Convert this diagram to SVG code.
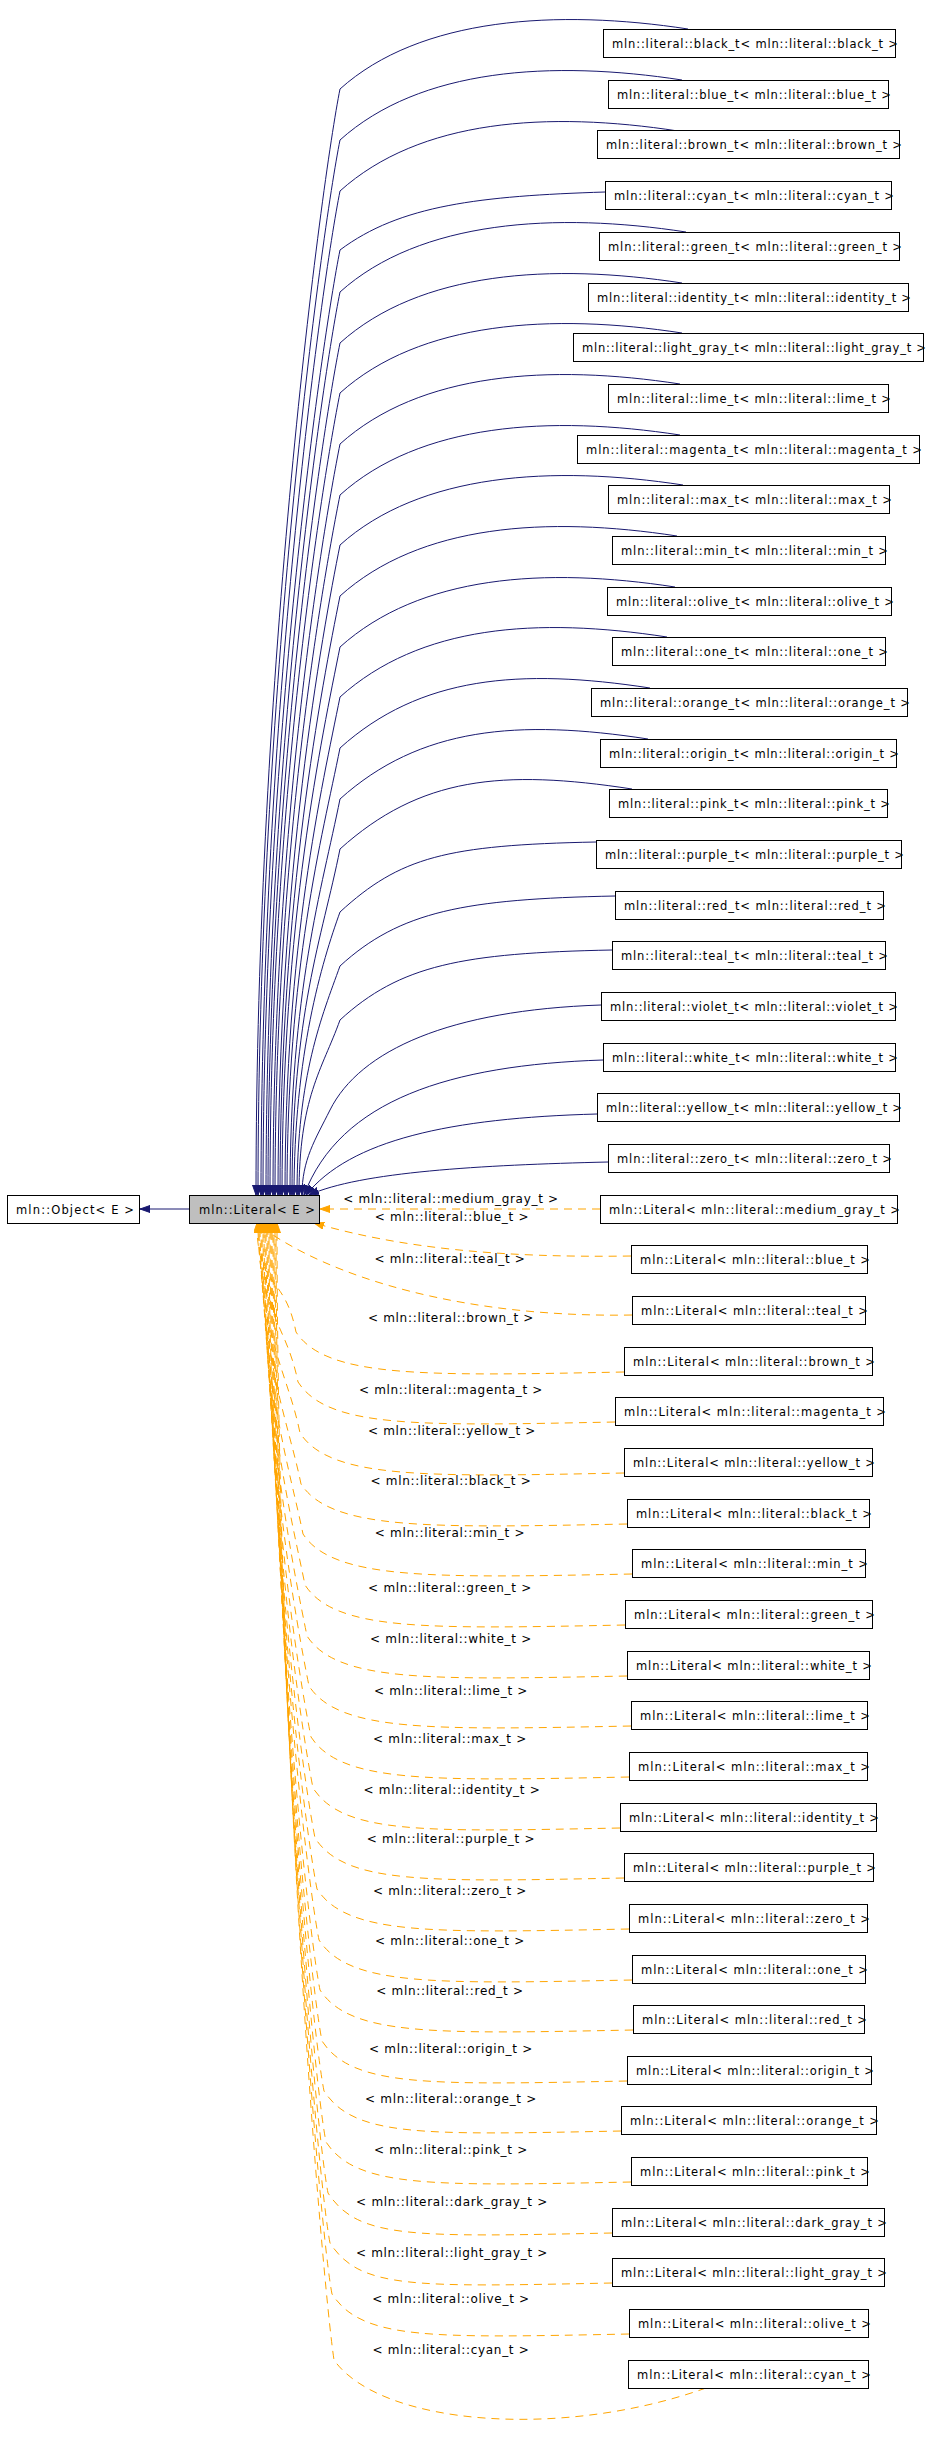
<svg xmlns="http://www.w3.org/2000/svg" width="928" height="2441" viewBox="0 0 928 2441">
<style>
rect{fill:#fff;stroke:#000;stroke-width:1}
text{font-family:"DejaVu Sans","Liberation Sans",sans-serif;font-size:10px;fill:#000}
.n text{font-size:11.5px}
.lbl{text-anchor:middle;font-size:12px;letter-spacing:0.7px}
.s{fill:none;stroke:#191970;stroke-width:1}
.d{fill:none;stroke:#ffa500;stroke-width:1;stroke-dasharray:8,6}
</style>
<defs>
<marker id="an" markerUnits="userSpaceOnUse" markerWidth="11" markerHeight="8" refX="10" refY="3.5" orient="auto"><path d="M0,0 L10,3.5 L0,7 z" fill="#191970" stroke="#191970"/></marker>
<marker id="ao" markerUnits="userSpaceOnUse" markerWidth="11" markerHeight="8" refX="10" refY="3.5" orient="auto"><path d="M0,0 L10,3.5 L0,7 z" fill="#ffa500" stroke="#ffa500"/></marker>
</defs>
<g id="edges">
<path class="s" marker-end="url(#an)" d="M189,1209 L140,1209"/>
<path class="s" marker-end="url(#an)" d="M688,29 C558,9 420,17 340,89 C322,179 256,670 256,1195"/>
<path class="s" marker-end="url(#an)" d="M682,80 C552,60 420,68 340,140 C322,230 258,693 258,1195"/>
<path class="s" marker-end="url(#an)" d="M678,131 C548,111 420,119 340,191 C322,281 261,716 261,1195"/>
<path class="s" marker-end="url(#an)" d="M605,192 C480,196 400,205 340,250 C322,340 263,746 263,1195"/>
<path class="s" marker-end="url(#an)" d="M686,232 C556,212 420,220 340,292 C322,382 266,762 266,1195"/>
<path class="s" marker-end="url(#an)" d="M682,283 C552,263 420,271 340,343 C322,433 268,785 268,1195"/>
<path class="s" marker-end="url(#an)" d="M682,333 C552,313 420,321 340,393 C322,483 270,807 270,1195"/>
<path class="s" marker-end="url(#an)" d="M680,384 C550,364 420,372 340,444 C322,534 273,830 273,1195"/>
<path class="s" marker-end="url(#an)" d="M680,435 C550,415 420,423 340,495 C322,585 275,853 275,1195"/>
<path class="s" marker-end="url(#an)" d="M683,485 C553,465 420,473 340,545 C322,635 278,875 278,1195"/>
<path class="s" marker-end="url(#an)" d="M677,536 C547,516 420,524 340,596 C322,686 280,898 280,1195"/>
<path class="s" marker-end="url(#an)" d="M675,587 C545,567 420,575 340,647 C322,737 282,921 282,1195"/>
<path class="s" marker-end="url(#an)" d="M667,637 C537,617 420,625 340,697 C322,787 285,944 285,1195"/>
<path class="s" marker-end="url(#an)" d="M650,688 C520,668 420,676 340,748 C322,838 287,967 287,1195"/>
<path class="s" marker-end="url(#an)" d="M648,739 C518,719 420,727 340,799 C322,889 290,990 290,1195"/>
<path class="s" marker-end="url(#an)" d="M632,789 C502,769 420,777 340,849 C322,939 292,1012 292,1195"/>
<path class="s" marker-end="url(#an)" d="M596,842 C446,845 400,857 340,912 C322,962 294,1054 294,1195"/>
<path class="s" marker-end="url(#an)" d="M615,896 C465,899 400,911 340,966 C322,1016 297,1075 297,1195"/>
<path class="s" marker-end="url(#an)" d="M612,950 C462,953 400,965 340,1020 C322,1070 299,1097 299,1195"/>
<path class="s" marker-end="url(#an)" d="M601,1005 C450,1010 360,1050 330,1110 C315,1140 302,1160 302,1195"/>
<path class="s" marker-end="url(#an)" d="M603,1060 C450,1065 340,1100 304,1195"/>
<path class="s" marker-end="url(#an)" d="M597,1114 C450,1118 350,1140 306,1195"/>
<path class="s" marker-end="url(#an)" d="M608,1162 C480,1165 360,1172 309,1195"/>
<path class="d" marker-end="url(#ao)" d="M600,1209 L320,1209"/>
<path class="d" marker-end="url(#ao)" d="M631,1256 C500,1258 400,1248 314,1223"/>
<path class="d" marker-end="url(#ao)" d="M632,1315 C470,1318 330,1280 256,1223"/>
<path class="d" marker-end="url(#ao)" d="M624,1372 C424,1376 326,1378 296,1332 C284,1272 257,1290 257,1223"/>
<path class="d" marker-end="url(#ao)" d="M615,1422 C415,1426 328,1428 298,1382 C286,1322 258,1313 258,1223"/>
<path class="d" marker-end="url(#ao)" d="M624,1473 C424,1477 330,1479 300,1433 C288,1373 259,1336 259,1223"/>
<path class="d" marker-end="url(#ao)" d="M627,1524 C427,1528 331,1530 301,1484 C289,1424 260,1358 260,1223"/>
<path class="d" marker-end="url(#ao)" d="M632,1574 C432,1578 333,1580 303,1534 C291,1474 261,1381 261,1223"/>
<path class="d" marker-end="url(#ao)" d="M625,1625 C425,1629 335,1631 305,1585 C293,1525 262,1404 262,1223"/>
<path class="d" marker-end="url(#ao)" d="M627,1676 C427,1680 337,1682 307,1636 C295,1576 263,1427 263,1223"/>
<path class="d" marker-end="url(#ao)" d="M631,1726 C431,1730 339,1732 309,1686 C297,1626 264,1450 264,1223"/>
<path class="d" marker-end="url(#ao)" d="M629,1777 C429,1781 341,1783 311,1737 C299,1677 265,1472 265,1223"/>
<path class="d" marker-end="url(#ao)" d="M620,1828 C420,1832 343,1834 313,1788 C301,1728 266,1495 266,1223"/>
<path class="d" marker-end="url(#ao)" d="M624,1878 C424,1882 345,1884 315,1838 C303,1778 267,1518 267,1223"/>
<path class="d" marker-end="url(#ao)" d="M629,1929 C429,1933 347,1935 317,1889 C305,1829 268,1541 268,1223"/>
<path class="d" marker-end="url(#ao)" d="M632,1980 C432,1984 349,1986 319,1940 C307,1880 269,1564 269,1223"/>
<path class="d" marker-end="url(#ao)" d="M633,2030 C433,2034 350,2036 320,1990 C308,1930 270,1586 270,1223"/>
<path class="d" marker-end="url(#ao)" d="M627,2081 C427,2085 352,2087 322,2041 C310,1981 271,1609 271,1223"/>
<path class="d" marker-end="url(#ao)" d="M621,2131 C421,2135 354,2137 324,2091 C312,2031 272,1632 272,1223"/>
<path class="d" marker-end="url(#ao)" d="M631,2182 C431,2186 356,2188 326,2142 C314,2082 273,1655 273,1223"/>
<path class="d" marker-end="url(#ao)" d="M612,2233 C412,2237 358,2239 328,2193 C316,2133 274,1678 274,1223"/>
<path class="d" marker-end="url(#ao)" d="M612,2283 C412,2287 360,2289 330,2243 C318,2183 275,1700 275,1223"/>
<path class="d" marker-end="url(#ao)" d="M629,2334 C429,2338 362,2340 332,2294 C320,2234 276,1723 276,1223"/>
<path class="d" marker-end="url(#ao)" d="M706,2388 C560,2440 380,2425 334,2360 C322,2280 277,1746 277,1223"/>
</g>
<g id="labels">
<text class="lbl" x="451" y="1203">&lt; mln::literal::medium_gray_t &gt;</text>
<text class="lbl" x="452" y="1221">&lt; mln::literal::blue_t &gt;</text>
<text class="lbl" x="450" y="1263">&lt; mln::literal::teal_t &gt;</text>
<text class="lbl" x="451" y="1322">&lt; mln::literal::brown_t &gt;</text>
<text class="lbl" x="451" y="1394">&lt; mln::literal::magenta_t &gt;</text>
<text class="lbl" x="452" y="1435">&lt; mln::literal::yellow_t &gt;</text>
<text class="lbl" x="451" y="1485">&lt; mln::literal::black_t &gt;</text>
<text class="lbl" x="450" y="1537">&lt; mln::literal::min_t &gt;</text>
<text class="lbl" x="450" y="1592">&lt; mln::literal::green_t &gt;</text>
<text class="lbl" x="451" y="1643">&lt; mln::literal::white_t &gt;</text>
<text class="lbl" x="451" y="1695">&lt; mln::literal::lime_t &gt;</text>
<text class="lbl" x="450" y="1743">&lt; mln::literal::max_t &gt;</text>
<text class="lbl" x="452" y="1794">&lt; mln::literal::identity_t &gt;</text>
<text class="lbl" x="451" y="1843">&lt; mln::literal::purple_t &gt;</text>
<text class="lbl" x="450" y="1895">&lt; mln::literal::zero_t &gt;</text>
<text class="lbl" x="450" y="1945">&lt; mln::literal::one_t &gt;</text>
<text class="lbl" x="450" y="1995">&lt; mln::literal::red_t &gt;</text>
<text class="lbl" x="451" y="2053">&lt; mln::literal::origin_t &gt;</text>
<text class="lbl" x="451" y="2103">&lt; mln::literal::orange_t &gt;</text>
<text class="lbl" x="451" y="2154">&lt; mln::literal::pink_t &gt;</text>
<text class="lbl" x="452" y="2206">&lt; mln::literal::dark_gray_t &gt;</text>
<text class="lbl" x="452" y="2257">&lt; mln::literal::light_gray_t &gt;</text>
<text class="lbl" x="451" y="2303">&lt; mln::literal::olive_t &gt;</text>
<text class="lbl" x="451" y="2354">&lt; mln::literal::cyan_t &gt;</text>
</g>
<g class="n">
<g id="n_object"><rect x="7.5" y="1195.5" width="132" height="28"/><text x="16" y="1214" textLength="118" lengthAdjust="spacing">mln::Object&lt; E &gt;</text></g>
<g id="n_literal"><rect x="189.5" y="1195.5" width="130" height="28" style="fill:#bfbfbf"/><text x="199" y="1214" textLength="116" lengthAdjust="spacing">mln::Literal&lt; E &gt;</text></g>
<g id="n_black_t"><rect x="603.5" y="29.5" width="292" height="28"/><text x="612" y="48" textLength="286" lengthAdjust="spacing">mln::literal::black_t&lt; mln::literal::black_t &gt;</text></g>
<g id="n_blue_t"><rect x="608.5" y="80.5" width="280" height="28"/><text x="617" y="99" textLength="274" lengthAdjust="spacing">mln::literal::blue_t&lt; mln::literal::blue_t &gt;</text></g>
<g id="n_brown_t"><rect x="597.5" y="130.5" width="302" height="28"/><text x="606" y="149" textLength="296" lengthAdjust="spacing">mln::literal::brown_t&lt; mln::literal::brown_t &gt;</text></g>
<g id="n_cyan_t"><rect x="605.5" y="181.5" width="286" height="28"/><text x="614" y="200" textLength="280" lengthAdjust="spacing">mln::literal::cyan_t&lt; mln::literal::cyan_t &gt;</text></g>
<g id="n_green_t"><rect x="599.5" y="232.5" width="300" height="28"/><text x="608" y="251" textLength="294" lengthAdjust="spacing">mln::literal::green_t&lt; mln::literal::green_t &gt;</text></g>
<g id="n_identity_t"><rect x="588.5" y="283.5" width="320" height="28"/><text x="597" y="302" textLength="314" lengthAdjust="spacing">mln::literal::identity_t&lt; mln::literal::identity_t &gt;</text></g>
<g id="n_light_gray_t"><rect x="573.5" y="333.5" width="350" height="28"/><text x="582" y="352" textLength="344" lengthAdjust="spacing">mln::literal::light_gray_t&lt; mln::literal::light_gray_t &gt;</text></g>
<g id="n_lime_t"><rect x="608.5" y="384.5" width="280" height="28"/><text x="617" y="403" textLength="274" lengthAdjust="spacing">mln::literal::lime_t&lt; mln::literal::lime_t &gt;</text></g>
<g id="n_magenta_t"><rect x="577.5" y="435.5" width="342" height="28"/><text x="586" y="454" textLength="336" lengthAdjust="spacing">mln::literal::magenta_t&lt; mln::literal::magenta_t &gt;</text></g>
<g id="n_max_t"><rect x="608.5" y="485.5" width="281" height="28"/><text x="617" y="504" textLength="275" lengthAdjust="spacing">mln::literal::max_t&lt; mln::literal::max_t &gt;</text></g>
<g id="n_min_t"><rect x="612.5" y="536.5" width="273" height="28"/><text x="621" y="555" textLength="267" lengthAdjust="spacing">mln::literal::min_t&lt; mln::literal::min_t &gt;</text></g>
<g id="n_olive_t"><rect x="607.5" y="587.5" width="284" height="28"/><text x="616" y="606" textLength="278" lengthAdjust="spacing">mln::literal::olive_t&lt; mln::literal::olive_t &gt;</text></g>
<g id="n_one_t"><rect x="612.5" y="637.5" width="273" height="28"/><text x="621" y="656" textLength="267" lengthAdjust="spacing">mln::literal::one_t&lt; mln::literal::one_t &gt;</text></g>
<g id="n_orange_t"><rect x="591.5" y="688.5" width="316" height="28"/><text x="600" y="707" textLength="310" lengthAdjust="spacing">mln::literal::orange_t&lt; mln::literal::orange_t &gt;</text></g>
<g id="n_origin_t"><rect x="600.5" y="739.5" width="296" height="28"/><text x="609" y="758" textLength="290" lengthAdjust="spacing">mln::literal::origin_t&lt; mln::literal::origin_t &gt;</text></g>
<g id="n_pink_t"><rect x="609.5" y="789.5" width="278" height="28"/><text x="618" y="808" textLength="272" lengthAdjust="spacing">mln::literal::pink_t&lt; mln::literal::pink_t &gt;</text></g>
<g id="n_purple_t"><rect x="596.5" y="840.5" width="305" height="28"/><text x="605" y="859" textLength="299" lengthAdjust="spacing">mln::literal::purple_t&lt; mln::literal::purple_t &gt;</text></g>
<g id="n_red_t"><rect x="615.5" y="891.5" width="268" height="28"/><text x="624" y="910" textLength="262" lengthAdjust="spacing">mln::literal::red_t&lt; mln::literal::red_t &gt;</text></g>
<g id="n_teal_t"><rect x="612.5" y="941.5" width="273" height="28"/><text x="621" y="960" textLength="267" lengthAdjust="spacing">mln::literal::teal_t&lt; mln::literal::teal_t &gt;</text></g>
<g id="n_violet_t"><rect x="601.5" y="992.5" width="294" height="28"/><text x="610" y="1011" textLength="288" lengthAdjust="spacing">mln::literal::violet_t&lt; mln::literal::violet_t &gt;</text></g>
<g id="n_white_t"><rect x="603.5" y="1043.5" width="292" height="28"/><text x="612" y="1062" textLength="286" lengthAdjust="spacing">mln::literal::white_t&lt; mln::literal::white_t &gt;</text></g>
<g id="n_yellow_t"><rect x="597.5" y="1093.5" width="302" height="28"/><text x="606" y="1112" textLength="296" lengthAdjust="spacing">mln::literal::yellow_t&lt; mln::literal::yellow_t &gt;</text></g>
<g id="n_zero_t"><rect x="608.5" y="1144.5" width="281" height="28"/><text x="617" y="1163" textLength="275" lengthAdjust="spacing">mln::literal::zero_t&lt; mln::literal::zero_t &gt;</text></g>
<g id="n_L_medium_gray"><rect x="600.5" y="1195.5" width="297" height="28"/><text x="609" y="1214" textLength="291" lengthAdjust="spacing">mln::Literal&lt; mln::literal::medium_gray_t &gt;</text></g>
<g id="n_L_blue"><rect x="631.5" y="1245.5" width="236" height="28"/><text x="640" y="1264" textLength="230" lengthAdjust="spacing">mln::Literal&lt; mln::literal::blue_t &gt;</text></g>
<g id="n_L_teal"><rect x="632.5" y="1296.5" width="233" height="28"/><text x="641" y="1315" textLength="227" lengthAdjust="spacing">mln::Literal&lt; mln::literal::teal_t &gt;</text></g>
<g id="n_L_brown"><rect x="624.5" y="1347.5" width="248" height="28"/><text x="633" y="1366" textLength="242" lengthAdjust="spacing">mln::Literal&lt; mln::literal::brown_t &gt;</text></g>
<g id="n_L_magenta"><rect x="615.5" y="1397.5" width="268" height="28"/><text x="624" y="1416" textLength="262" lengthAdjust="spacing">mln::Literal&lt; mln::literal::magenta_t &gt;</text></g>
<g id="n_L_yellow"><rect x="624.5" y="1448.5" width="248" height="28"/><text x="633" y="1467" textLength="242" lengthAdjust="spacing">mln::Literal&lt; mln::literal::yellow_t &gt;</text></g>
<g id="n_L_black"><rect x="627.5" y="1499.5" width="242" height="28"/><text x="636" y="1518" textLength="236" lengthAdjust="spacing">mln::Literal&lt; mln::literal::black_t &gt;</text></g>
<g id="n_L_min"><rect x="632.5" y="1549.5" width="233" height="28"/><text x="641" y="1568" textLength="227" lengthAdjust="spacing">mln::Literal&lt; mln::literal::min_t &gt;</text></g>
<g id="n_L_green"><rect x="625.5" y="1600.5" width="247" height="28"/><text x="634" y="1619" textLength="241" lengthAdjust="spacing">mln::Literal&lt; mln::literal::green_t &gt;</text></g>
<g id="n_L_white"><rect x="627.5" y="1651.5" width="242" height="28"/><text x="636" y="1670" textLength="236" lengthAdjust="spacing">mln::Literal&lt; mln::literal::white_t &gt;</text></g>
<g id="n_L_lime"><rect x="631.5" y="1701.5" width="236" height="28"/><text x="640" y="1720" textLength="230" lengthAdjust="spacing">mln::Literal&lt; mln::literal::lime_t &gt;</text></g>
<g id="n_L_max"><rect x="629.5" y="1752.5" width="238" height="28"/><text x="638" y="1771" textLength="232" lengthAdjust="spacing">mln::Literal&lt; mln::literal::max_t &gt;</text></g>
<g id="n_L_identity"><rect x="620.5" y="1803.5" width="256" height="28"/><text x="629" y="1822" textLength="250" lengthAdjust="spacing">mln::Literal&lt; mln::literal::identity_t &gt;</text></g>
<g id="n_L_purple"><rect x="624.5" y="1853.5" width="249" height="28"/><text x="633" y="1872" textLength="243" lengthAdjust="spacing">mln::Literal&lt; mln::literal::purple_t &gt;</text></g>
<g id="n_L_zero"><rect x="629.5" y="1904.5" width="238" height="28"/><text x="638" y="1923" textLength="232" lengthAdjust="spacing">mln::Literal&lt; mln::literal::zero_t &gt;</text></g>
<g id="n_L_one"><rect x="632.5" y="1955.5" width="233" height="28"/><text x="641" y="1974" textLength="227" lengthAdjust="spacing">mln::Literal&lt; mln::literal::one_t &gt;</text></g>
<g id="n_L_red"><rect x="633.5" y="2005.5" width="231" height="28"/><text x="642" y="2024" textLength="225" lengthAdjust="spacing">mln::Literal&lt; mln::literal::red_t &gt;</text></g>
<g id="n_L_origin"><rect x="627.5" y="2056.5" width="244" height="28"/><text x="636" y="2075" textLength="238" lengthAdjust="spacing">mln::Literal&lt; mln::literal::origin_t &gt;</text></g>
<g id="n_L_orange"><rect x="621.5" y="2106.5" width="255" height="28"/><text x="630" y="2125" textLength="249" lengthAdjust="spacing">mln::Literal&lt; mln::literal::orange_t &gt;</text></g>
<g id="n_L_pink"><rect x="631.5" y="2157.5" width="236" height="28"/><text x="640" y="2176" textLength="230" lengthAdjust="spacing">mln::Literal&lt; mln::literal::pink_t &gt;</text></g>
<g id="n_L_dark_gray"><rect x="612.5" y="2208.5" width="272" height="28"/><text x="621" y="2227" textLength="266" lengthAdjust="spacing">mln::Literal&lt; mln::literal::dark_gray_t &gt;</text></g>
<g id="n_L_light_gray"><rect x="612.5" y="2258.5" width="272" height="28"/><text x="621" y="2277" textLength="266" lengthAdjust="spacing">mln::Literal&lt; mln::literal::light_gray_t &gt;</text></g>
<g id="n_L_olive"><rect x="629.5" y="2309.5" width="239" height="28"/><text x="638" y="2328" textLength="233" lengthAdjust="spacing">mln::Literal&lt; mln::literal::olive_t &gt;</text></g>
<g id="n_L_cyan"><rect x="628.5" y="2360.5" width="240" height="28"/><text x="637" y="2379" textLength="234" lengthAdjust="spacing">mln::Literal&lt; mln::literal::cyan_t &gt;</text></g>
</g>
</svg>
